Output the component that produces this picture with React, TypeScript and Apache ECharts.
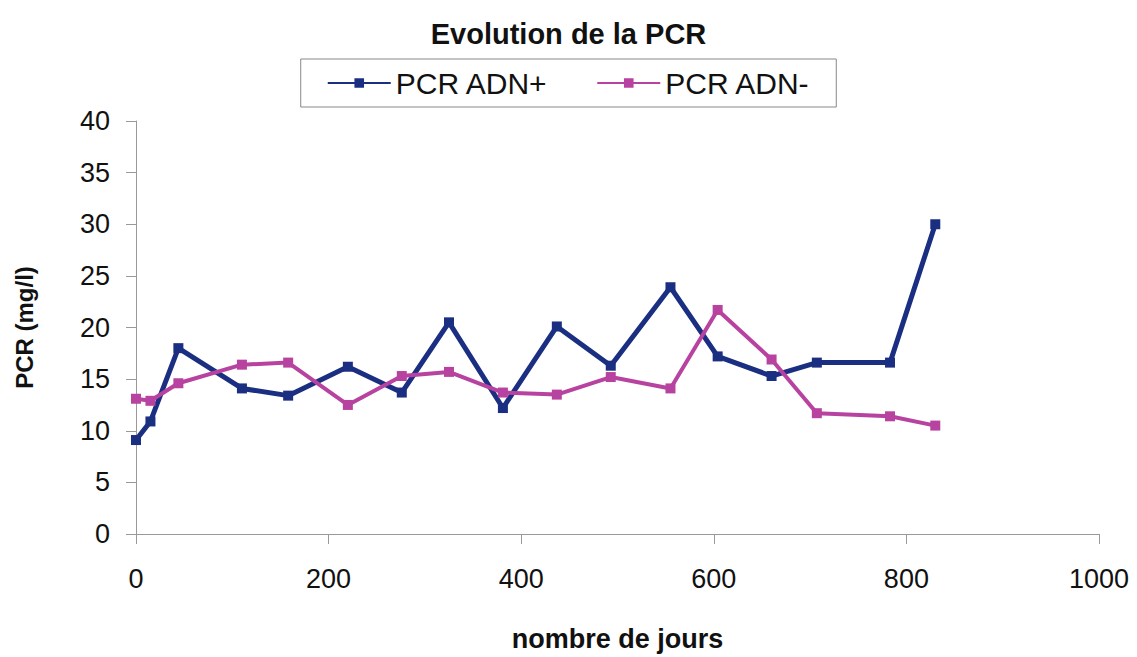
import React, { useEffect, useRef } from "react";
import * as echarts from "echarts";

const days = [0, 15, 44, 110, 158, 220, 276, 325, 381, 437, 493, 555, 604, 660, 707, 783, 830];
const pcrPlus = [9.1, 10.9, 18.0, 14.1, 13.4, 16.2, 13.7, 20.5, 12.2, 20.1, 16.3, 23.9, 17.2, 15.3, 16.6, 16.6, 30.0];
const pcrMinus = [13.1, 12.9, 14.6, 16.4, 16.6, 12.5, 15.3, 15.7, 13.7, 13.5, 15.2, 14.1, 21.7, 16.9, 11.7, 11.4, 10.5];

const FONT = "'Liberation Sans', Arial, sans-serif";
const BLUE = "#1b2f82";
const PINK = "#b8429f";

export default function App() {
  const ref = useRef<HTMLDivElement>(null);
  useEffect(() => {
    if (!ref.current) return;
    const chart = echarts.init(ref.current, null, { renderer: "svg" });
    const toPairs = (ys: number[]) => days.map((d, i) => [d, ys[i]]);
    chart.setOption({
      animation: false,
      backgroundColor: "#ffffff",
      title: {
        text: "Evolution de la PCR",
        left: "center",
        top: 14,
        textStyle: { fontFamily: FONT, fontSize: 29, fontWeight: "bold", color: "#111" },
      },
      legend: {
        top: 59,
        left: "center",
        itemGap: 48,
        itemWidth: 63,
        itemHeight: 12,
        padding: [9, 26, 9, 26],
        borderColor: "#888",
        borderWidth: 1,
        textStyle: { fontFamily: FONT, fontSize: 30, color: "#111" },
        data: ["PCR ADN+", "PCR ADN-"],
      },
      grid: { left: 136, right: 38, top: 121, bottom: 107 },
      xAxis: {
        type: "value",
        min: 0,
        max: 1000,
        interval: 200,
        name: "nombre de jours",
        nameLocation: "middle",
        nameGap: 91,
        nameTextStyle: { fontFamily: FONT, fontSize: 27, fontWeight: "bold", color: "#111" },
        axisLine: { show: true, lineStyle: { color: "#999" } },
        axisTick: { show: true, length: 10, lineStyle: { color: "#999" } },
        axisLabel: {
          fontFamily: FONT,
          fontSize: 27,
          color: "#111",
          margin: 31,
          formatter: (v: number) => String(v),
        },
        splitLine: { show: false },
      },
      yAxis: {
        type: "value",
        min: 0,
        max: 40,
        interval: 5,
        name: "PCR (mg/l)",
        nameLocation: "middle",
        nameGap: 100,
        nameRotate: 90,
        nameTextStyle: { fontFamily: FONT, fontSize: 24, fontWeight: "bold", color: "#111" },
        axisLine: { show: true, lineStyle: { color: "#999" } },
        axisTick: { show: true, length: 10, lineStyle: { color: "#999" } },
        axisLabel: { fontFamily: FONT, fontSize: 27, color: "#111", margin: 26 },
        splitLine: { show: false },
      },
      series: [
        {
          name: "PCR ADN+",
          type: "line",
          data: toPairs(pcrPlus),
          symbol: "rect",
          symbolSize: 10,
          color: BLUE,
          lineStyle: { width: 5, color: BLUE },
          itemStyle: { color: BLUE },
        },
        {
          name: "PCR ADN-",
          type: "line",
          data: toPairs(pcrMinus),
          symbol: "rect",
          symbolSize: 10,
          color: PINK,
          lineStyle: { width: 4, color: PINK },
          itemStyle: { color: PINK },
        },
      ],
    });
    return () => chart.dispose();
  }, []);
  return (
    <div
      ref={ref}
      style={{ position: "fixed", left: 0, top: 0, width: 1137, height: 657 }}
    />
  );
}
